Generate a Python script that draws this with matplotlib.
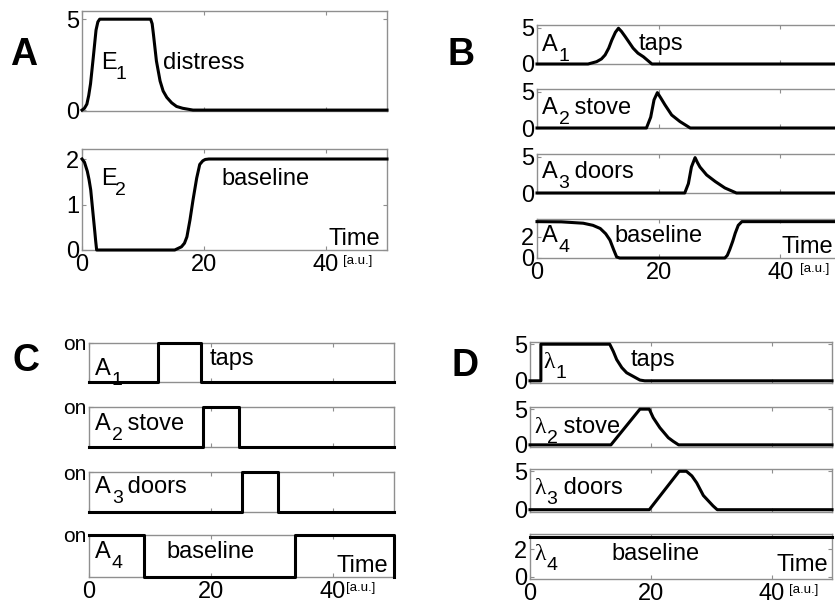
import matplotlib
matplotlib.use('Agg')
import matplotlib.pyplot as plt
import matplotlib.transforms as mtransforms

plt.rcParams['font.family'] = ['Liberation Sans', 'DejaVu Sans']

# ---------------- data ----------------
x_ticks = [0, 20, 40]
x_ticklabels = ['0', '20', '40']

# Panel A
e1_x = [0, 0.4, 0.8, 1.1, 1.4, 1.85, 2.3, 2.6, 2.9, 11.25, 11.5, 11.7, 12.2, 12.8, 13.3, 13.9, 14.7, 15.5, 16.5, 18.2, 50]
e1_y = [0, 0.1, 0.33, 0.8, 1.45, 2.9, 4.4, 4.85, 5.0, 5.0, 4.75, 4.2, 2.7, 1.6, 1.05, 0.7, 0.4, 0.2, 0.1, 0, 0]
e2_x = [0, 0.4, 0.87, 1.15, 1.43, 1.85, 2.1, 2.24, 2.4, 15.2, 16.3, 16.8, 17.2, 17.7, 18.2, 18.8, 19.3, 19.8, 20.2, 20.8, 50]
e2_y = [2.0, 1.93, 1.73, 1.55, 1.32, 0.74, 0.4, 0.2, 0, 0, 0.07, 0.15, 0.29, 0.66, 1.1, 1.58, 1.88, 1.96, 1.99, 2.0, 2.0]

# Panel B
a1_x = [0, 8.4, 9.8, 10.6, 11.2, 11.8, 12.3, 12.9, 13.4, 13.9, 14.5, 15.8, 16.6, 17.5, 18.9, 50]
a1_y = [0, 0, 0.32, 0.7, 1.25, 2.2, 3.3, 4.4, 4.95, 4.5, 3.8, 2.2, 1.5, 1.0, 0, 0]
a2_x = [0, 18.0, 18.7, 19.25, 19.8, 20.4, 21.05, 22.15, 23.5, 25.2, 50]
a2_y = [0, 0, 1.5, 3.9, 4.9, 4.1, 3.2, 1.8, 0.9, 0, 0]
a3_x = [0, 24.3, 24.9, 25.4, 26.0, 26.4, 26.8, 27.9, 29.3, 30.9, 32.8, 50]
a3_y = [0, 0, 1.3, 3.6, 4.9, 4.2, 3.6, 2.5, 1.6, 0.7, 0, 0]
a4_x = [0, 4.0, 7.6, 9.2, 10.4, 11.3, 12.0, 12.6, 13.1, 13.6, 30.9, 31.3, 31.7, 32.2, 32.6, 33.1, 33.7, 50]
a4_y = [3.45, 3.43, 3.3, 3.1, 2.8, 2.3, 1.7, 0.8, 0.1, 0, 0, 0.25, 0.8, 1.6, 2.35, 3.1, 3.45, 3.45]

# Panel C (on/off)
c1_x = [0, 11.3, 11.3, 18.4, 18.4, 50]
c1_y = [0, 0, 1, 1, 0, 0]
c2_x = [0, 18.7, 18.7, 24.6, 24.6, 50]
c2_y = [0, 0, 1, 1, 0, 0]
c3_x = [0, 25.0, 25.0, 31.0, 31.0, 50]
c3_y = [0, 0, 1, 1, 0, 0]
c4_x = [0, 9.0, 9.0, 33.8, 33.8, 50, 50]
c4_y = [1, 1, 0, 0, 1, 1, 0]

# Panel D
l1_x = [0, 1.8, 1.8, 13.2, 13.8, 14.35, 15.2, 16.0, 17.1, 18.2, 19.0, 50]
l1_y = [0, 0, 5, 5, 4.0, 2.9, 1.8, 1.1, 0.6, 0.1, 0, 0]
l2_x = [0, 13.4, 18.2, 19.75, 20.4, 21.5, 22.9, 23.7, 24.6, 50]
l2_y = [0, 0, 5, 5, 3.8, 2.4, 1.0, 0.5, 0, 0]
l3_x = [0, 19.75, 24.7, 25.9, 26.8, 27.6, 28.7, 30.3, 31.0, 50]
l3_y = [0, 0, 5, 5, 4.4, 3.5, 1.85, 0.5, 0, 0]
l4_x = [0, 50]
l4_y = [2.85, 2.85]

# ---------------- figure ----------------
W, H = 835, 605
fig = plt.figure(figsize=(W / 100, H / 100), dpi=100)

SPINE = '#8f8f8f'
FS = 17
SUB = 14
LW = 2.2


def add_ax(l, t, r, b, ylim, yticks, yticklabels=None, xlabels=False):
    ax = fig.add_axes([l / W, 1 - b / H, (r - l) / W, (b - t) / H])
    ax.set_xlim(0, 50)
    ax.set_ylim(*ylim)
    ax.set_xticks(x_ticks)
    ax.set_yticks(yticks)
    if yticklabels is not None:
        ax.set_yticklabels(yticklabels)
    if xlabels:
        ax.set_xticklabels(x_ticklabels)
    else:
        ax.set_xticklabels([])
    for s in ax.spines.values():
        s.set_color(SPINE)
        s.set_linewidth(1.0)
    ax.tick_params(direction='in', length=3, width=0.8, color=SPINE,
                   top=True, right=True, labelsize=FS, pad=2)
    ax.tick_params(axis='x', pad=3)
    return ax


def curve(ax, x, y):
    ax.plot(x, y, color='black', lw=LW, zorder=3, clip_on=False,
            solid_joinstyle='round')


def label(ax, x, y, main, sub=None, rest=None, sub_dx=12, rest_dx=24,
          family=None):
    kw = {} if family is None else {'family': family}
    ax.text(x, y, main, fontsize=FS, ha='left', va='baseline', **kw)
    if sub is not None:
        ax.annotate(sub, xy=(x, y), xycoords='data', xytext=(sub_dx, -7.2),
                    textcoords='offset points', fontsize=SUB,
                    ha='left', va='baseline')
    if rest is not None:
        ax.annotate(rest, xy=(x, y), xycoords='data', xytext=(rest_dx, 0),
                    textcoords='offset points', fontsize=FS,
                    ha='left', va='baseline')


def time_label(ax, x_right, y, au_x):
    ax.text(x_right, y, 'Time', fontsize=FS, ha='right', va='baseline')
    trans = mtransforms.blended_transform_factory(ax.transData, ax.transAxes)
    ax.annotate('[a.u.]', xy=(au_x, 0), xycoords=trans, xytext=(0, -3.5),
                textcoords='offset points', fontsize=9.5,
                ha='left', va='top', annotation_clip=False)


SERIF = ['Liberation Serif', 'DejaVu Serif']

# ---- Panel A ----
axA1 = add_ax(82, 11, 387, 111, (-0.05, 5.45), [0, 5])
curve(axA1, e1_x, e1_y)
label(axA1, 3.2, 2.28, 'E', '1', sub_dx=10)
axA1.text(13.3, 2.28, 'distress', fontsize=FS, ha='left', va='baseline')

axA2 = add_ax(82, 149, 387, 250, (0, 2.22), [0, 1, 2], xlabels=True)
curve(axA2, e2_x, e2_y)
label(axA2, 3.2, 1.43, 'E', '2', sub_dx=10)
axA2.text(22.9, 1.43, 'baseline', fontsize=FS, ha='left', va='baseline')
time_label(axA2, 48.9, 0.1, 42.8)

# ---- Panel B ----
BL, BR = 537, 841
axB1 = add_ax(BL, 25, BR, 64, (0, 5.4), [0, 5])
curve(axB1, a1_x, a1_y)
label(axB1, 0.8, 1.8, 'A', '1')
axB1.text(16.7, 2.0, 'taps', fontsize=FS, ha='left', va='baseline')

axB2 = add_ax(BL, 89, BR, 128, (0, 5.4), [0, 5])
curve(axB2, a2_x, a2_y)
label(axB2, 0.8, 1.9, 'A', '2', ' stove', rest_dx=19)

axB3 = add_ax(BL, 154, BR, 193, (0, 5.4), [0, 5])
curve(axB3, a3_x, a3_y)
label(axB3, 0.8, 2.1, 'A', '3', ' doors', rest_dx=19)

axB4 = add_ax(BL, 219, BR, 258, (0, 3.7), [0, 2], xlabels=True)
curve(axB4, a4_x, a4_y)
label(axB4, 0.8, 1.55, 'A', '4')
axB4.text(12.8, 1.55, 'baseline', fontsize=FS, ha='left', va='baseline')
time_label(axB4, 48.7, 0.5, 43.3)

# ---- Panel C ----
CL, CR = 89, 394
axC1 = add_ax(CL, 343, CR, 382, (0, 1), [1], ['on'])
curve(axC1, c1_x, c1_y)
label(axC1, 1.0, 0.18, 'A', '1')
axC1.text(19.8, 0.44, 'taps', fontsize=FS, ha='left', va='baseline')

axC2 = add_ax(CL, 407, CR, 447, (0, 1), [1], ['on'])
curve(axC2, c2_x, c2_y)
label(axC2, 1.0, 0.43, 'A', '2', ' stove', rest_dx=19)

axC3 = add_ax(CL, 472, CR, 512, (0, 1), [1], ['on'])
curve(axC3, c3_x, c3_y)
label(axC3, 1.0, 0.47, 'A', '3', ' doors', rest_dx=19)

axC4 = add_ax(CL, 535, CR, 577, (0, 1), [1], ['on'], xlabels=True)
curve(axC4, c4_x, c4_y)
label(axC4, 1.0, 0.45, 'A', '4')
axC4.text(12.7, 0.46, 'baseline', fontsize=FS, ha='left', va='baseline')
time_label(axC4, 49.0, 0.13, 42.2)

for ax in (axC1, axC2, axC3, axC4):
    ax.tick_params(axis='y', labelsize=15)

# ---- Panel D ----
DL, DR = 530, 832
axD1 = add_ax(DL, 342, DR, 383, (-0.3, 5.3), [0, 5])
curve(axD1, l1_x, l1_y)
label(axD1, 2.2, 1.8, 'λ', '1', sub_dx=8.5, family=SERIF)
axD1.text(16.6, 2.0, 'taps', fontsize=FS, ha='left', va='baseline')

axD2 = add_ax(DL, 407, DR, 447, (-0.3, 5.3), [0, 5])
curve(axD2, l2_x, l2_y)
label(axD2, 0.8, 1.7, 'λ', '2', ' stove', sub_dx=8.5, rest_dx=16, family=SERIF)

axD3 = add_ax(DL, 469, DR, 512, (-0.3, 5.3), [0, 5])
curve(axD3, l3_x, l3_y)
label(axD3, 0.8, 2.1, 'λ', '3', ' doors', sub_dx=8.5, rest_dx=16, family=SERIF)

axD4 = add_ax(DL, 534, DR, 579, (-0.15, 3.1), [0, 2], xlabels=True)
curve(axD4, l4_x, l4_y)
label(axD4, 0.8, 1.2, 'λ', '4', sub_dx=8.5, family=SERIF)
axD4.text(13.5, 1.2, 'baseline', fontsize=FS, ha='left', va='baseline')
time_label(axD4, 49.4, 0.4, 42.8)

# ---- panel letters ----
for txt, px, py in [('A', 10, 65), ('B', 448, 65), ('C', 12, 371), ('D', 452, 376)]:
    fig.text(px / W, 1 - py / H, txt, fontsize=27, fontweight='bold',
             ha='left', va='baseline')

fig.savefig('out.png', dpi=100, facecolor='white')
